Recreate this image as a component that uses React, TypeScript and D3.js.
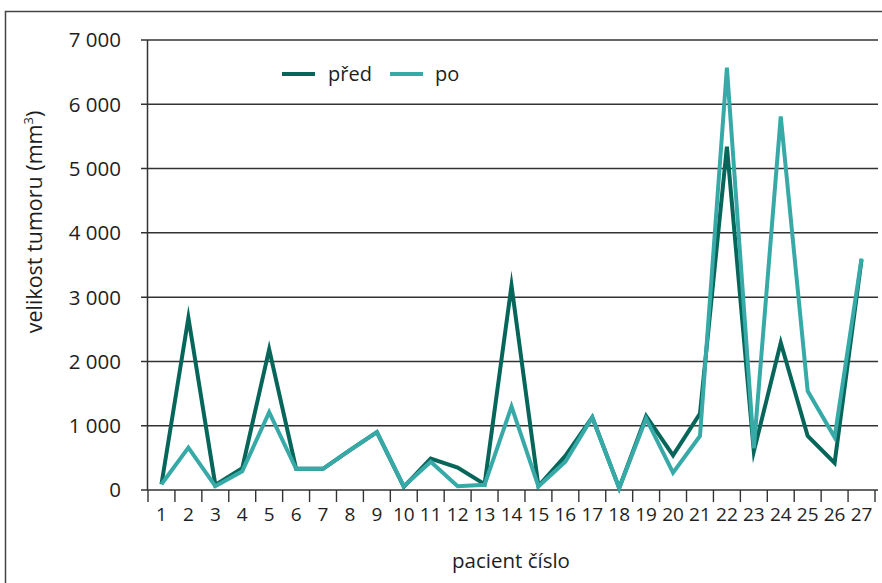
import { useEffect } from 'react';
import * as d3 from 'd3';

const patients = d3.range(1, 28).map(String);
const pred = [90, 2680, 80, 340, 2190, 330, 330, 620, 900, 50, 490, 350, 90, 3180, 60, 530, 1130, 30, 1150, 540, 1190, 5340, 600, 2290, 840, 420, 3580];
const po = [90, 660, 60, 290, 1210, 330, 330, 620, 900, 60, 440, 60, 80, 1300, 55, 440, 1130, 30, 1110, 270, 840, 6570, 650, 5810, 1540, 820, 3600];
const yTicks = [0, 1000, 2000, 3000, 4000, 5000, 6000, 7000];
const seriesNames = ['před', 'po'];
const colors = ['#07665a', '#37aaa8'];

const W = 882;
const H = 583;
const FONT = '"Open Sans", "Noto Sans", sans-serif';

const App = () => {
  useEffect(() => {
    document.body.style.margin = '0';
  }, []);

  const x = d3.scaleBand<string>().domain(patients).range([148, 875]);
  const y = d3.scaleLinear().domain([0, 7000]).range([490, 40]);
  const cx = (i: number) => x(patients[i])! + x.bandwidth() / 2;

  const line = d3.line<number>()
    .x((_, i) => cx(i))
    .y(d => y(d));

  const fmt = (v: number) => d3.format(',')(v).replace(/,/g, ' ');
  const boundaries = patients.map(p => x(p)!).concat([x.range()[1]]);

  return (
    <svg width={W} height={H} style={{ display: 'block', fontFamily: FONT }}>
      <rect x={0} y={0} width={W} height={H} fill="#fff" />
      {/* frame */}
      <path d={`M5.5,${H + 5} V11.5 H${W + 5}`} fill="none" stroke="#444" strokeWidth={1.5} />

      {/* gridlines + y ticks */}
      {yTicks.map(t => (
        <g key={t}>
          <line x1={141} x2={878} y1={y(t)} y2={y(t)} stroke="#333" strokeWidth={1.5} />
          <text x={121} y={y(t)} dy="0.36em" textAnchor="end" fontSize={20.5} fill="#1e1e1e">{fmt(t)}</text>
        </g>
      ))}
      {/* y axis */}
      <line x1={147.5} x2={147.5} y1={y(7000)} y2={y(0)} stroke="#333" strokeWidth={1.5} />

      {/* x ticks */}
      {boundaries.map((b, i) => (
        <line key={i} x1={b} x2={b} y1={y(0)} y2={y(0) + 12} stroke="#333" strokeWidth={1.4} />
      ))}
      {patients.map((p, i) => (
        <text key={p} x={cx(i)} y={521} textAnchor="middle" fontSize={19} fill="#1e1e1e">{p}</text>
      ))}

      {/* series */}
      {[pred, po].map((s, k) => (
        <path key={k} d={line(s)!} fill="none" stroke={colors[k]} strokeWidth={4} strokeLinejoin="miter" strokeMiterlimit={10} />
      ))}

      {/* legend */}
      <g>
        <line x1={282} x2={315} y1={74} y2={74} stroke={colors[0]} strokeWidth={4} />
        <text x={328} y={74} dy="0.36em" fontSize={20} fill="#1e1e1e">{seriesNames[0]}</text>
        <line x1={390} x2={423} y1={74} y2={74} stroke={colors[1]} strokeWidth={4} />
        <text x={435} y={74} dy="0.36em" fontSize={20} fill="#1e1e1e">{seriesNames[1]}</text>
      </g>

      {/* axis titles */}
      <text x={511} y={568} textAnchor="middle" fontSize={20.5} fill="#1e1e1e">pacient číslo</text>
      <text transform="translate(42,222) rotate(-90)" textAnchor="middle" fontSize={21.5} fill="#1e1e1e">
        velikost tumoru (mm<tspan baselineShift="super" fontSize={13}>3</tspan>)
      </text>
    </svg>
  );
};

export default App;
